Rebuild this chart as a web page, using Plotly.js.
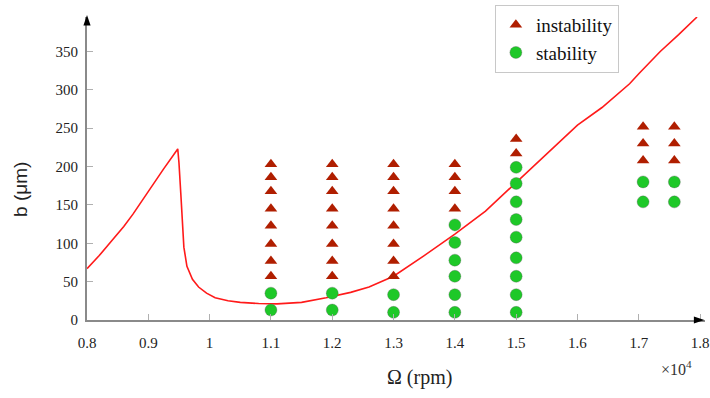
<!DOCTYPE html>
<html>
<head>
<meta charset="utf-8">
<script src="https://cdn.plot.ly/plotly-3.0.1.min.js"></script>
<style>
html,body{margin:0;padding:0;background:#fff;}
#chart{width:710px;height:398px;}
#chart .xtick text, #chart .ytick text, #chart .legendtext, #chart .annotation-text {font-family: 'Liberation Serif', 'Times New Roman', serif !important;}
#chart .annotation-text[data-unformatted="b (μm)"] {font-family: 'Liberation Sans', Arial, sans-serif !important;}
</style>
</head>
<body>
<div id="chart"></div>
<script>
// Stability lobe boundary (Omega in 10^4 rpm, b in micrometres)
const curveX = [0.80, 0.82, 0.84, 0.86, 0.875, 0.90, 0.925, 0.948, 0.950, 0.953, 0.956, 0.958, 0.963, 0.972, 0.982, 0.995, 1.009, 1.03, 1.05, 1.08, 1.11, 1.15, 1.19, 1.23, 1.26, 1.30, 1.35, 1.40, 1.45, 1.50, 1.55, 1.60, 1.64, 1.676, 1.685, 1.70, 1.735, 1.765, 1.795];
const curveY = [67, 84, 103, 122, 138, 168, 197, 223, 205, 165, 120, 95, 70, 53, 43, 35, 29, 25, 23, 21.5, 21, 23, 29, 36, 43, 57, 84, 112, 142, 179, 217, 254, 277, 301, 308, 321, 350, 372, 395];

// Instability test points
const instX = [1.1,1.1,1.1,1.1,1.1,1.1,1.1,1.1,
               1.2,1.2,1.2,1.2,1.2,1.2,1.2,1.2,
               1.3,1.3,1.3,1.3,1.3,1.3,1.3,1.3,
               1.4,1.4,1.4,1.4,
               1.5,1.5,
               1.707,1.707,1.707,
               1.758,1.758,1.758];
const instY = [203,186,168,145,123,99,77,57,
               203,186,168,145,123,99,77,57,
               203,186,168,145,123,99,77,57,
               203,186,168,145,
               236,217,
               252,230,208,
               252,230,208];

// Stability test points
const stabX = [1.1,1.1,
               1.2,1.2,
               1.3,1.3,
               1.4,1.4,1.4,1.4,1.4,1.4,
               1.5,1.5,1.5,1.5,1.5,1.5,1.5,1.5,1.5,
               1.707,1.707,
               1.758,1.758];
const stabY = [35,13,
               35,13,
               33,10,
               124,101,78,57,33,10,
               199,178,154,131,108,81,57,33,10,
               180,154,
               180,154];

const xTicks = [0.8,0.9,1.0,1.1,1.2,1.3,1.4,1.5,1.6,1.7,1.8];
const xTickText = ["0.8","0.9","1","1.1","1.2","1.3","1.4","1.5","1.6","1.7","1.8"];
const yTicks = [0,50,100,150,200,250,300,350];

const serif = "Liberation Serif";

const traces = [
  {x: curveX, y: curveY, mode: 'lines', type: 'scatter', showlegend: false,
   line: {color: '#ff1a1a', width: 1.6}, hoverinfo: 'skip'},
  {x: instX, y: instY, mode: 'markers', type: 'scatter', name: 'instability',
   marker: {symbol: 'triangle-up', size: 11, color: '#b01e00'}},
  {x: stabX, y: stabY, mode: 'markers', type: 'scatter', name: 'stability',
   marker: {symbol: 'circle', size: 12, color: '#1ec828', line: {color: 'rgba(90,90,90,0.55)', width: 0.6}}}
];

const axCommon = {
  showgrid: false, zeroline: false, showline: true, linecolor: '#8a8a8a', linewidth: 2,
  ticks: 'inside', ticklen: 6, tickcolor: '#b0b0b0', tickwidth: 1,
  tickfont: {family: serif, size: 15, color: '#222'}
};

const layout = {
  width: 710, height: 398,
  margin: {l: 87, r: 5, t: 14, b: 78},
  paper_bgcolor: '#fff', plot_bgcolor: '#fff',
  font: {family: serif},
  xaxis: Object.assign({}, axCommon, {
    range: [0.8, 1.808], tickmode: 'array', tickvals: xTicks, ticktext: xTickText,
    ticklabelstandoff: 8, ticklabeloverflow: 'allow'
  }),
  yaxis: Object.assign({}, axCommon, {
    range: [0, 395], tickmode: 'array', tickvals: yTicks,
    ticklabelstandoff: 4
  }),
  legend: {
    x: 0.66, y: 1.04, xanchor: 'left', yanchor: 'top',
    bgcolor: '#fff', bordercolor: '#c8c8c8', borderwidth: 1,
    font: {family: serif, size: 19, color: '#111'},
    itemwidth: 30, tracegroupgap: 0
  },
  annotations: [
    {xref: 'paper', yref: 'paper', x: 0.983, y: -0.197, text: '×10<sup>4</sup>', showarrow: false,
     font: {family: serif, size: 16, color: '#333'}},
    {xref: 'paper', yref: 'paper', x: 0.538, y: -0.19, yanchor: 'middle', text: 'Ω (rpm)', showarrow: false,
     font: {family: serif, size: 20, color: '#222'}},
    {xref: 'paper', yref: 'paper', x: -0.108, xanchor: 'center', y: 0.43, yanchor: 'middle', text: 'b (μm)', textangle: -90, showarrow: false,
     font: {family: 'Liberation Sans', size: 19, color: '#222'}}
  ],
  shapes: [
    {type: 'path', xref: 'paper', yref: 'paper', path: 'M -0.0058,0.972 L 0.0058,0.972 L 0,1.007 Z',
     fillcolor: '#000', line: {width: 0}},
    {type: 'path', xref: 'paper', yref: 'paper', path: 'M 0.982,-0.0115 L 0.982,0.0115 L 0.999,0 Z',
     fillcolor: '#000', line: {width: 0}}
  ]
};

Plotly.newPlot('chart', traces, layout, {displayModeBar: false, staticPlot: true});
</script>
</body>
</html>
